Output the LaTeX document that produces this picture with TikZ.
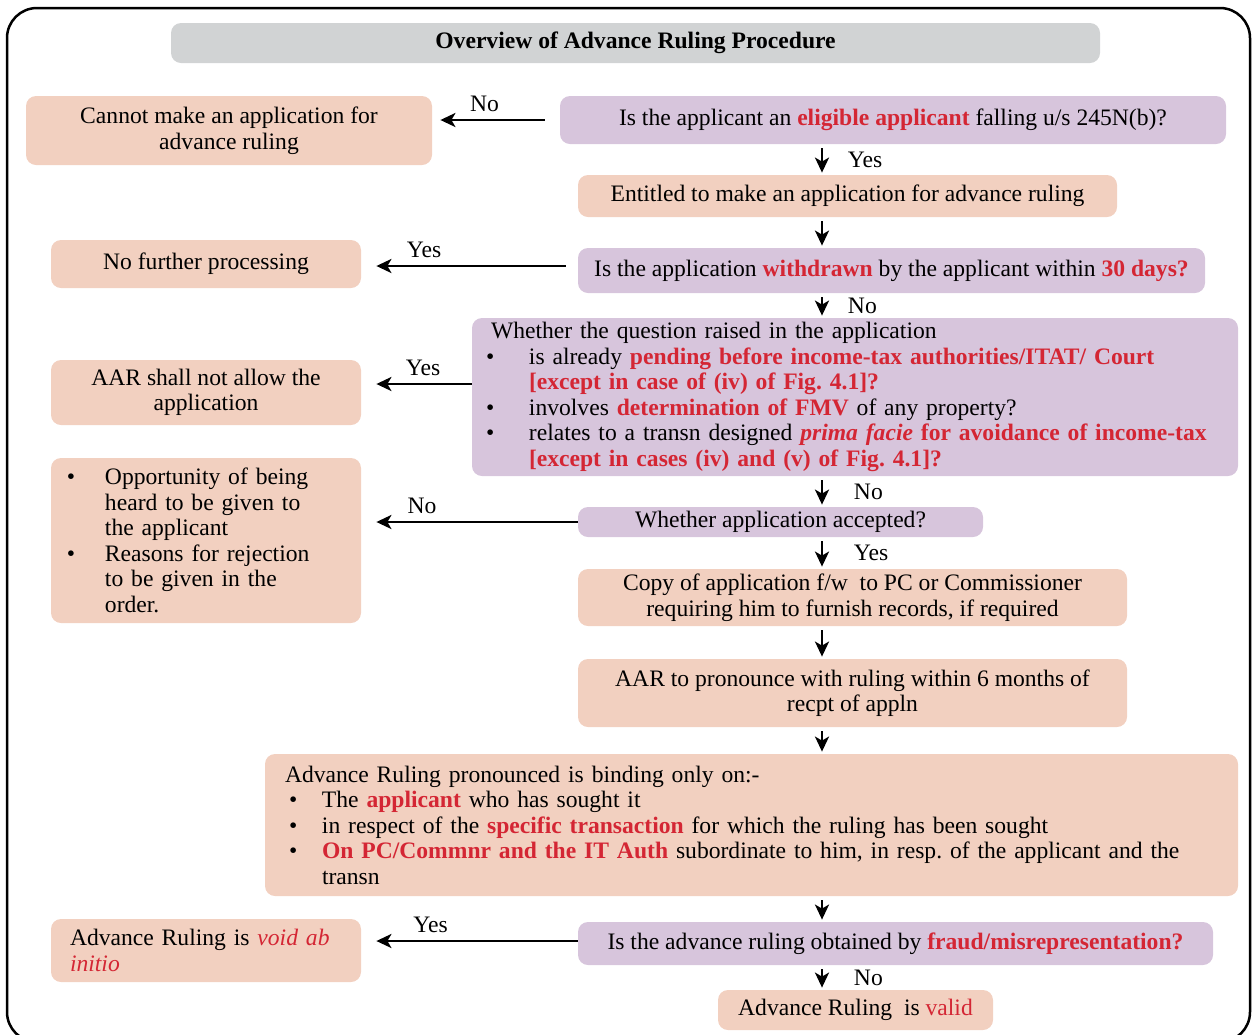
\documentclass[tikz,border=0pt]{standalone}
\usepackage{fontspec}
\setmainfont{Liberation Serif}
\usepackage{xcolor}
\usetikzlibrary{arrows.meta, positioning}

\definecolor{titlegray}{RGB}{209,211,212}
\definecolor{boxpink}{RGB}{242,208,192}
\definecolor{boxlilac}{RGB}{215,197,220}
\definecolor{hlred}{RGB}{212,38,52}

\newcommand{\hl}[1]{\textcolor{hlred}{\textbf{#1}}}
\newcommand{\bul}[1]{\makebox[#1][l]{\textbullet}}
\frenchspacing

\begin{document}
\begin{tikzpicture}[x=0.5pt, y=-0.5pt, font=\fontsize{11.8}{12.75}\selectfont,
        box/.style={rectangle, rounded corners=5pt, inner sep=0pt, align=center},
        pinkbox/.style={box, fill=boxpink},
        lilacbox/.style={box, fill=boxlilac},
        arr/.style={draw, -{Stealth[length=7.5pt, width=7pt, inset=2pt]}, line width=1.3pt},
        lbl/.style={font=\fontsize{11.8}{12.75}\selectfont}]
    \useasboundingbox (0,0) rectangle (1255,1035);
    \draw[line width=1.25pt, rounded corners=15pt] (7,8) rectangle (1250,1042);
    \coordinate (col) at (822,0);

    \node[box, fill=titlegray, minimum width=464.5pt, minimum height=20pt,
          font=\fontsize{11.8}{12.75}\selectfont\bfseries] (title) at (635.5,43)
        {Overview of Advance Ruling Procedure};

    % main column
    \node[lilacbox, minimum width=333pt, minimum height=24pt] (q1) at (893,120)
        {Is the applicant an \hl{eligible applicant} falling u/s 245N(b)?};
    \node[pinkbox, minimum width=269.5pt, minimum height=21pt] (entitled) at (847.5,196)
        {Entitled to make an application for advance ruling};
    \node[lilacbox, minimum width=313.5pt, minimum height=22.5pt] (q2) at (891.5,270.5)
        {Is the application \hl{withdrawn} by the applicant within \hl{30 days?}};
    \node[lilacbox, minimum width=383pt, minimum height=79pt, inner xsep=7pt,
          text width=369pt, align=left] (q3) at (855,397)
        {\hspace*{2.5pt}Whether the question raised in the application\\
         \bul{21.5pt}is already \hl{pending before income-tax authorities/ITAT/ Court}\\
         \hspace*{21.5pt}\hl{[except in case of (iv) of Fig. 4.1]?}\\
         \bul{21.5pt}involves \hl{determination of FMV} of any property?\\
         \bul{21.5pt}relates to a transn designed \hl{\textit{prima facie}} \hl{for avoidance of income-tax}\\
         \hspace*{21.5pt}\hl{[except in cases (iv) and (v) of Fig. 4.1]?}};
    \node[lilacbox, minimum width=202.5pt, minimum height=15pt] (q4) at (780.5,522)
        {Whether application accepted?};
    \node[pinkbox, minimum width=274.5pt, minimum height=28.5pt] (copy) at (852.5,597.5)
        {Copy of application f/w\ \ to PC or Commissioner\\requiring him to furnish records, if required};
    \node[pinkbox, minimum width=274.5pt, minimum height=34pt] (pronounce) at (852.5,693)
        {AAR to pronounce with ruling within 6 months of\\recpt of appln};
    \node[pinkbox, minimum width=486.5pt, minimum height=71pt, inner xsep=10pt,
          text width=466.5pt, align=left] (binding) at (751.5,825)
        {Advance Ruling pronounced is binding only on:-\\
         \hspace*{2pt}\bul{16.5pt}The \hl{applicant} who has sought it\\
         \hspace*{2pt}\bul{16.5pt}in respect of the \hl{specific transaction} for which the ruling has been sought\\
         \hspace*{2pt}\bul{16.5pt}\hl{On PC/Commnr and the IT Auth} subordinate to him, in resp. of the applicant and the\\
         \hspace*{18.5pt}transn};
    \node[lilacbox, minimum width=317.5pt, minimum height=21.5pt] (q5) at (895.5,943.5)
        {Is the advance ruling obtained by \hl{fraud/misrepresentation?}};
    \node[pinkbox, minimum width=137.5pt, minimum height=20pt] (valid) at (855.5,1010)
        {Advance Ruling\ \ is \textcolor{hlred}{valid}};

    % side outcomes
    \node[pinkbox, minimum width=203pt, minimum height=34.5pt] (cannot) at (229,130.5)
        {Cannot make an application for\\advance ruling};
    \node[pinkbox, minimum width=155pt, minimum height=24pt] (nofurther) at (206,264)
        {No further processing};
    \node[pinkbox, minimum width=155pt, minimum height=32.5pt] (notallow) at (206,392.5)
        {AAR shall not allow the\\application};
    \node[pinkbox, minimum width=155pt, minimum height=82.5pt, inner xsep=8pt,
          text width=139pt, align=left] (hearing) at (206,540.5)
        {\bul{19pt}Opportunity of being\\
         \hspace*{19pt}heard to be given to\\
         \hspace*{19pt}the applicant\\
         \bul{19pt}Reasons for rejection\\
         \hspace*{19pt}to be given in the\\
         \hspace*{19pt}order.};
    \node[pinkbox, minimum width=155pt, minimum height=31.5pt, inner xsep=9.5pt,
          text width=136pt, align=left] (void) at (206,950.5)
        {Advance Ruling is \textcolor{hlred}{\textit{void ab}}\\\textcolor{hlred}{\textit{initio}}};

    \path[every edge/.style={arr, shorten <=2pt, shorten >=1pt}]
        (q1.south -| col) edge node[lbl, right, xshift=9pt] {Yes} (entitled.north -| col)
        (entitled.south -| col) edge (q2.north -| col)
        (q2.south -| col) edge node[lbl, right, xshift=9pt] {No} (q3.north -| col)
        (q3.south -| col) edge node[lbl, right, xshift=12pt] {No} (q4.north -| col)
        (q4.south -| col) edge node[lbl, right, xshift=12pt] {Yes} (copy.north -| col)
        (copy.south -| col) edge (pronounce.north -| col)
        (pronounce.south -| col) edge (binding.north -| col)
        (binding.south -| col) edge (q5.north -| col)
        (q5.south -| col) edge node[lbl, right, xshift=12pt] {No} (valid.north -| col);

    \coordinate (q2w) at ([yshift=2.25pt]q2.west);
    \coordinate (q3w) at ([yshift=6.5pt]q3.west);
    \coordinate (q5w) at ([yshift=1.25pt]q5.west);
    \path[every edge/.style={arr}]
        (q1.west) edge[shorten <=7.5pt, shorten >=4pt] node[lbl, above, pos=0.59] {No} (q1.west -| cannot.east)
        (q2w) edge[shorten <=6pt, shorten >=7.5pt] node[lbl, above, pos=0.71] {Yes} (q2w -| nofurther.east)
        (q3w) edge[shorten >=7.5pt] node[lbl, above, pos=0.44] {Yes} (q3w -| notallow.east)
        (q4.west) edge[shorten >=7.5pt] node[lbl, above, pos=0.72] {No} (q4.west -| hearing.east)
        (q5w) edge[shorten >=7.5pt] node[lbl, above, pos=0.68] {Yes} (q5w -| void.east);
\end{tikzpicture}
\end{document}
